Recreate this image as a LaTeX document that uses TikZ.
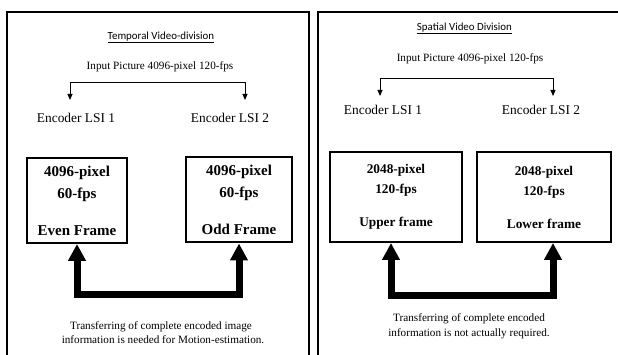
\documentclass[tikz,border=0pt]{standalone}
\usepackage{fontspec}
\setmainfont{Liberation Serif}
\newfontfamily\headfont{Carlito}
\usetikzlibrary{arrows.meta}
\begin{document}
\begin{tikzpicture}[x=1pt,y=-1pt,
  panel/.style={line width=2pt},
  head/.style={font=\headfont\fontsize{10.9}{13}\selectfont, inner sep=0pt},
  plain/.style={font=\fontsize{11.2}{14}\selectfont, inner sep=0pt},
  enc/.style={font=\fontsize{13.4}{16}\selectfont, inner sep=0pt},
  sarr/.style={line width=0.9pt, {Triangle[width=5pt,length=6pt]}-{Triangle[width=5pt,length=6pt]}},
  boxA/.style={draw, line width=2pt, align=center, inner sep=0pt,
    font=\bfseries\fontsize{15}{22}\selectfont},
  boxB/.style={draw, line width=2pt, align=center, inner sep=0pt,
    font=\bfseries\fontsize{13.3}{20}\selectfont},
  bigarr/.style={line width=7pt, line join=miter,
    {Triangle[width=17pt,length=17pt]}-{Triangle[width=17pt,length=17pt]}}
]
\useasboundingbox (0,0) rectangle (618,355);
\fill[white] (0,0) rectangle (618,355);

% panels
\draw[panel] (7,370) -- (7,11.7) -- (309.3,11.7) -- (309.3,370);
\draw[panel] (318.3,370) -- (318.3,11.7) -- (630,11.7);

% ---------- left panel: temporal ----------
\node[head, anchor=base] (th1) at (161,40) {Temporal Video-division};
\draw[line width=0.6pt] ([yshift=-2pt]th1.base west) -- ([yshift=-2pt]th1.base east);
\node[plain, anchor=base] (in1) at (160,70) {Input Picture 4096-pixel 120-fps};
\coordinate (l1a) at (70,100);
\coordinate (l1b) at (70,82);
\coordinate (l1c) at (245,82);
\coordinate (l1d) at (245,100);
\draw[sarr] (l1a) -- (l1b) -- (l1c) -- (l1d);
\node[enc, anchor=base] (e11) at (76,123) {Encoder LSI 1};
\node[enc, anchor=base] (e12) at (230,123) {Encoder LSI 2};
\node[boxA, minimum width=100pt, minimum height=85pt] (even) at (77,200.5)
  {4096-pixel\\60-fps\\[15pt]Even Frame};
\node[boxA, minimum width=106pt, minimum height=85pt] (odd) at (239,200)
  {4096-pixel\\60-fps\\[15pt]Odd Frame};
\coordinate (bar1) at (0,294);
\draw[bigarr] (even.south) -- (even.south |- bar1) -- (odd.south |- bar1) -- (odd.south);
\node[plain, anchor=base] (t1a) at (161,329) {Transferring of complete encoded image};
\node[plain, anchor=base] (t1b) at (163,343) {information is needed for Motion-estimation.};

% ---------- right panel: spatial ----------
\node[head, anchor=base] (th2) at (464.5,31) {Spatial Video Division};
\draw[line width=0.6pt] ([yshift=-2pt]th2.base west) -- ([yshift=-2pt]th2.base east);
\node[plain, anchor=base] (in2) at (470,62) {Input Picture 4096-pixel 120-fps};
\coordinate (r1a) at (380,96);
\coordinate (r1b) at (380,78);
\coordinate (r1c) at (553,78);
\coordinate (r1d) at (553,96);
\draw[sarr] (r1a) -- (r1b) -- (r1c) -- (r1d);
\node[enc, anchor=base] (e21) at (383,115) {Encoder LSI 1};
\node[enc, anchor=base] (e22) at (541,115) {Encoder LSI 2};
\node[boxB, minimum width=132pt, minimum height=90pt] (up) at (396,197)
  {2048-pixel\\120-fps\\[13pt]Upper frame};
\node[boxB, minimum width=134pt, minimum height=90pt] (lo) at (544,197)
  {2048-pixel\\120-fps\\[13pt]Lower frame};
\coordinate (bar2) at (0,295);
\coordinate (u2) at ([xshift=-5pt]up.south);
\coordinate (l2) at ([xshift=9pt]lo.south);
\draw[bigarr] (u2) -- (u2 |- bar2) -- (l2 |- bar2) -- (l2);
\node[plain, anchor=base] (t2a) at (469,321) {Transferring of complete encoded};
\node[plain, anchor=base] (t2b) at (469,336) {information is not actually required.};
\end{tikzpicture}
\end{document}
